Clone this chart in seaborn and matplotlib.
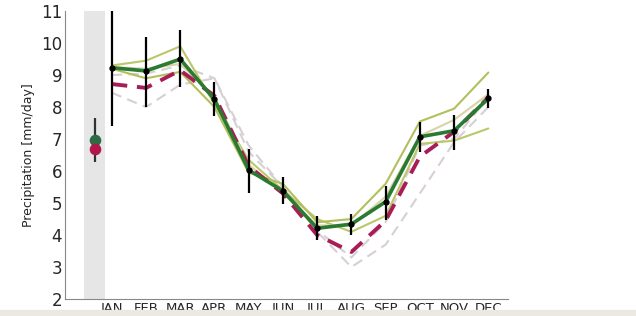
import numpy as np
import pandas as pd
import matplotlib
matplotlib.use("Agg")
import matplotlib.pyplot as plt
import seaborn as sns

months = ["JAN", "FEB", "MAR", "APR", "MAY", "JUN", "JUL", "AUG", "SEP", "OCT", "NOV", "DEC"]
month_pos = list(range(1, 13))

obs_mean = [9.23, 9.13, 9.5, 8.24, 6.03, 5.38, 4.21, 4.34, 5.04, 7.07, 7.26, 8.27]
obs_low = [7.4, 8.01, 8.62, 7.72, 5.32, 4.96, 3.84, 4.0, 4.47, 6.6, 6.66, 7.96]
obs_high = [11.0, 10.2, 10.4, 8.78, 6.68, 5.8, 4.6, 4.66, 5.53, 7.54, 7.75, 8.56]

model_mean = [8.72, 8.6, 9.15, 8.35, 6.15, 5.3, 4.0, 3.47, 4.45, 6.45, 7.23, 8.3]

olive_a = [9.3, 9.45, 9.9, 8.1, 6.35, 5.4, 4.5, 4.1, 4.6, 6.85, 6.95, 7.33]
olive_b = [9.2, 8.9, 9.1, 8.0, 5.95, 5.6, 4.4, 4.5, 5.6, 7.55, 7.95, 9.08]
olive_c = [9.25, 9.2, 9.35, 8.3, 6.2, 5.3, 4.3, 4.3, 5.2, 7.1, 7.6, 8.4]

gray_a = [9.0, 9.05, 9.3, 8.9, 6.6, 5.5, 4.15, 3.3, 4.4, 6.8, 7.0, 8.3]
gray_b = [8.45, 8.0, 8.7, 8.9, 6.8, 5.5, 4.1, 3.0, 3.7, 5.3, 6.9, 8.0]

annual_pos = 0.5
annual_obs = 6.97
annual_model = 6.68
annual_low = 6.29
annual_high = 7.65

sns.set_style("white")
plt.rcParams['font.family'] = ['DejaVu Sans']

fig = plt.figure(figsize=(6.36, 3.16), dpi=100)
ax = fig.add_axes([0.102, 0.0538, 0.697, 0.911])

ax.axvspan(0.2, 0.8, color="#e6e6e6", lw=0, zorder=0)

df = pd.DataFrame({"pos": month_pos, "obs": obs_mean, "model": model_mean,
                   "oa": olive_a, "ob": olive_b, "oc": olive_c,
                   "ga": gray_a, "gb": gray_b})

for col, c in [("ga", "#d4d0d4"), ("gb", "#d8cfd6")]:
    sns.lineplot(data=df, x="pos", y=col, ax=ax, color=c, lw=1.5,
                 linestyle=(0, (5, 3)), zorder=1)
for col, c in [("oa", "#bcc66a"), ("ob", "#b3bf5c"), ("oc", "#d8d3a8")]:
    sns.lineplot(data=df, x="pos", y=col, ax=ax, color=c, lw=1.5, zorder=2)

sns.lineplot(data=df, x="pos", y="model", ax=ax, color="#a81d55", lw=2.8,
             linestyle=(0, (4, 2.5)), zorder=3)
sns.lineplot(data=df, x="pos", y="obs", ax=ax, color="#2a7a32", lw=2.6, zorder=4)

obs_arr = np.array(obs_mean)
yerr = np.vstack([obs_arr - np.array(obs_low), np.array(obs_high) - obs_arr])
ax.errorbar(month_pos, obs_mean, yerr=yerr, fmt="o", color="black",
            ms=3.5, elinewidth=1.6, capsize=0, zorder=5)

ax.errorbar([annual_pos], [annual_obs], yerr=[[annual_obs - annual_low], [annual_high - annual_obs]],
            fmt="none", ecolor="#333333", elinewidth=1.6, zorder=5)
ax.scatter([annual_pos], [annual_obs], s=70, color="#2e6b45", zorder=6, lw=0)
ax.scatter([annual_pos], [annual_model], s=70, color="#b0164a", zorder=7, lw=0)

ax.set_xlim(-0.37, 12.58)
ax.set_ylim(2, 11)
ax.set_yticks(range(2, 12))
ax.set_yticklabels([str(v) for v in range(2, 12)], fontsize=12)
ax.set_xticks(month_pos)
ax.set_xticklabels(months, fontsize=9.5)
ax.tick_params(axis="both", length=0, pad=2)
ax.set_xlabel("")
ax.set_ylabel("Precipitation [mm/day]", fontsize=9)
for s in ["top", "right"]:
    ax.spines[s].set_visible(False)
for s in ["left", "bottom"]:
    ax.spines[s].set_color("#888888")
    ax.spines[s].set_linewidth(0.8)

fig.patches.append(plt.Rectangle((0, 0), 1, 6 / 316, transform=fig.transFigure,
                                 color="#ece8e2", zorder=10))

fig.savefig("out.png", dpi=100)
